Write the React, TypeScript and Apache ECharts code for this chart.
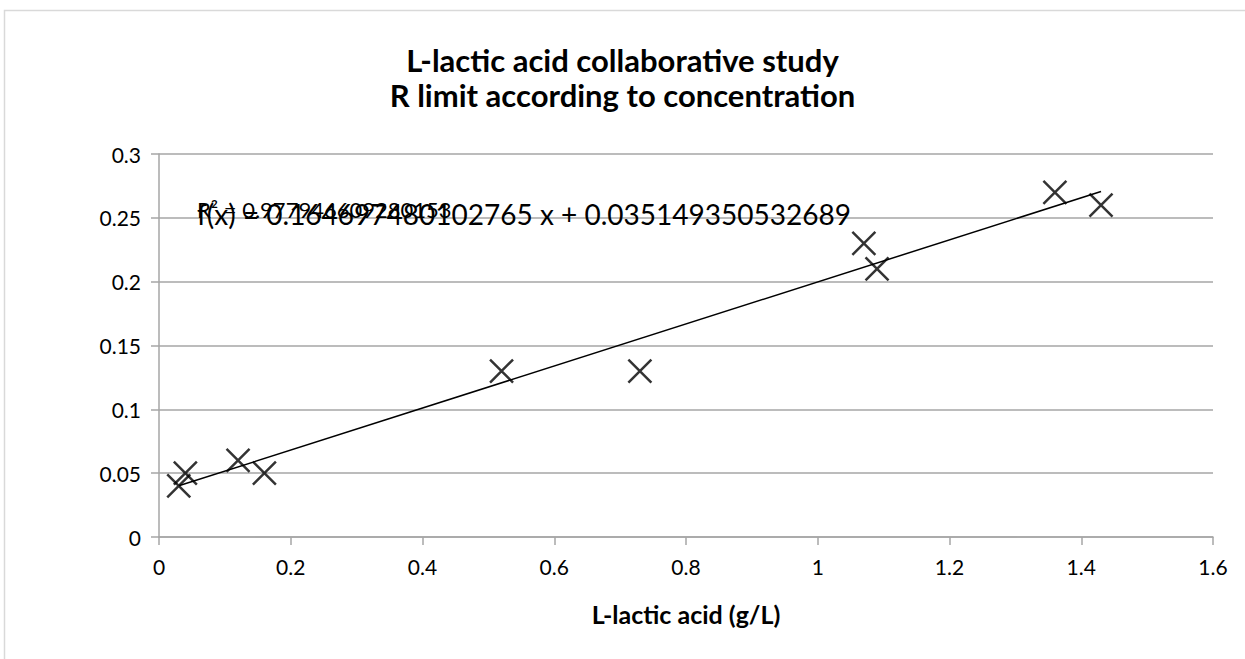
import React, { useEffect, useRef } from "react";
import * as echarts from "echarts";

const concentration = [0.03, 0.04, 0.12, 0.16, 0.52, 0.73, 1.07, 1.09, 1.36, 1.43];
const rLimit = [0.04, 0.05, 0.06, 0.05, 0.13, 0.13, 0.23, 0.21, 0.27, 0.26];
const titleLines = ["L-lactic acid collaborative study", "R limit according to concentration"];
const xAxisName = "L-lactic acid (g/L)";
const equationText = "f(x) = 0.164697480102765 x + 0.035149350532689";
const r2Text = "R² = 0.977946609280153";

function linearFit(xs: number[], ys: number[]) {
  const n = xs.length;
  const mx = xs.reduce((a, b) => a + b, 0) / n;
  const my = ys.reduce((a, b) => a + b, 0) / n;
  let sxy = 0;
  let sxx = 0;
  for (let i = 0; i < n; i++) {
    sxy += (xs[i] - mx) * (ys[i] - my);
    sxx += (xs[i] - mx) * (xs[i] - mx);
  }
  const slope = sxy / sxx;
  return { slope, intercept: my - slope * mx };
}

export default function App() {
  const ref = useRef<HTMLDivElement>(null);
  useEffect(() => {
    if (!ref.current) return;
    const chart = echarts.init(ref.current, null, { renderer: "svg" });
    const fit = linearFit(concentration, rLimit);
    const xMin = Math.min(...concentration);
    const xMax = Math.max(...concentration);
    const trend = [
      [xMin, fit.slope * xMin + fit.intercept],
      [xMax, fit.slope * xMax + fit.intercept],
    ];
    const font = "Lato, 'Open Sans', sans-serif";
    chart.setOption({
      animation: false,
      backgroundColor: "#ffffff",
      title: {
        text: titleLines.join("\n"),
        left: "center",
        top: 37,
        textStyle: {
          fontFamily: font,
          fontSize: 31,
          fontWeight: "bold",
          lineHeight: 35,
          color: "#000",
        },
      },
      grid: { left: 159, right: 32, top: 154, bottom: 122 },
      xAxis: {
        type: "value",
        min: 0,
        max: 1.6,
        interval: 0.2,
        name: xAxisName,
        nameLocation: "middle",
        nameGap: 64,
        nameTextStyle: { fontFamily: font, fontSize: 25, fontWeight: "bold", color: "#000" },
        axisLine: { show: true, lineStyle: { color: "#a6a6a6", width: 1.5 } },
        axisTick: { show: true, length: 8, lineStyle: { color: "#a6a6a6", width: 1.5 } },
        axisLabel: { fontFamily: font, fontSize: 21, color: "#000", margin: 19 },
        splitLine: { show: false },
      },
      yAxis: {
        type: "value",
        min: 0,
        max: 0.3,
        interval: 0.05,
        axisLine: { show: true, lineStyle: { color: "#a6a6a6", width: 1.5 } },
        axisTick: { show: true, length: 8, lineStyle: { color: "#a6a6a6", width: 1.5 } },
        axisLabel: { fontFamily: font, fontSize: 21, color: "#000", margin: 18 },
        splitLine: { show: true, lineStyle: { color: "#a6a6a6", width: 1.5 } },
      },
      graphic: [
        {
          type: "rect",
          shape: { x: 4.5, y: 10.5, width: 1400, height: 800 },
          style: { fill: "none", stroke: "#d9d9d9", lineWidth: 1.5 },
          silent: true,
        },
        {
          type: "text",
          left: 197,
          top: 200,
          z: 10,
          style: { text: equationText, fontFamily: font, fontSize: 28, fill: "#000" },
        },
        {
          type: "text",
          left: 197,
          top: 198,
          z: 10,
          style: { text: r2Text, fontFamily: font, fontSize: 22, fill: "#000" },
        },
      ],
      series: [
        {
          type: "line",
          data: trend,
          showSymbol: false,
          symbol: "none",
          lineStyle: { color: "#000", width: 1.5 },
          z: 3,
        },
        {
          type: "scatter",
          data: concentration.map((x, i) => [x, rLimit[i]]),
          symbol: "path://M0 0L10 10M10 0L0 10",
          symbolSize: 23,
          itemStyle: { color: "none", borderColor: "#000", borderWidth: 2.5 },
          z: 4,
        },
      ],
    });
    return () => chart.dispose();
  }, []);
  return (
    <div
      ref={ref}
      style={{ position: "absolute", left: 0, top: 0, width: 1245, height: 659 }}
    />
  );
}
